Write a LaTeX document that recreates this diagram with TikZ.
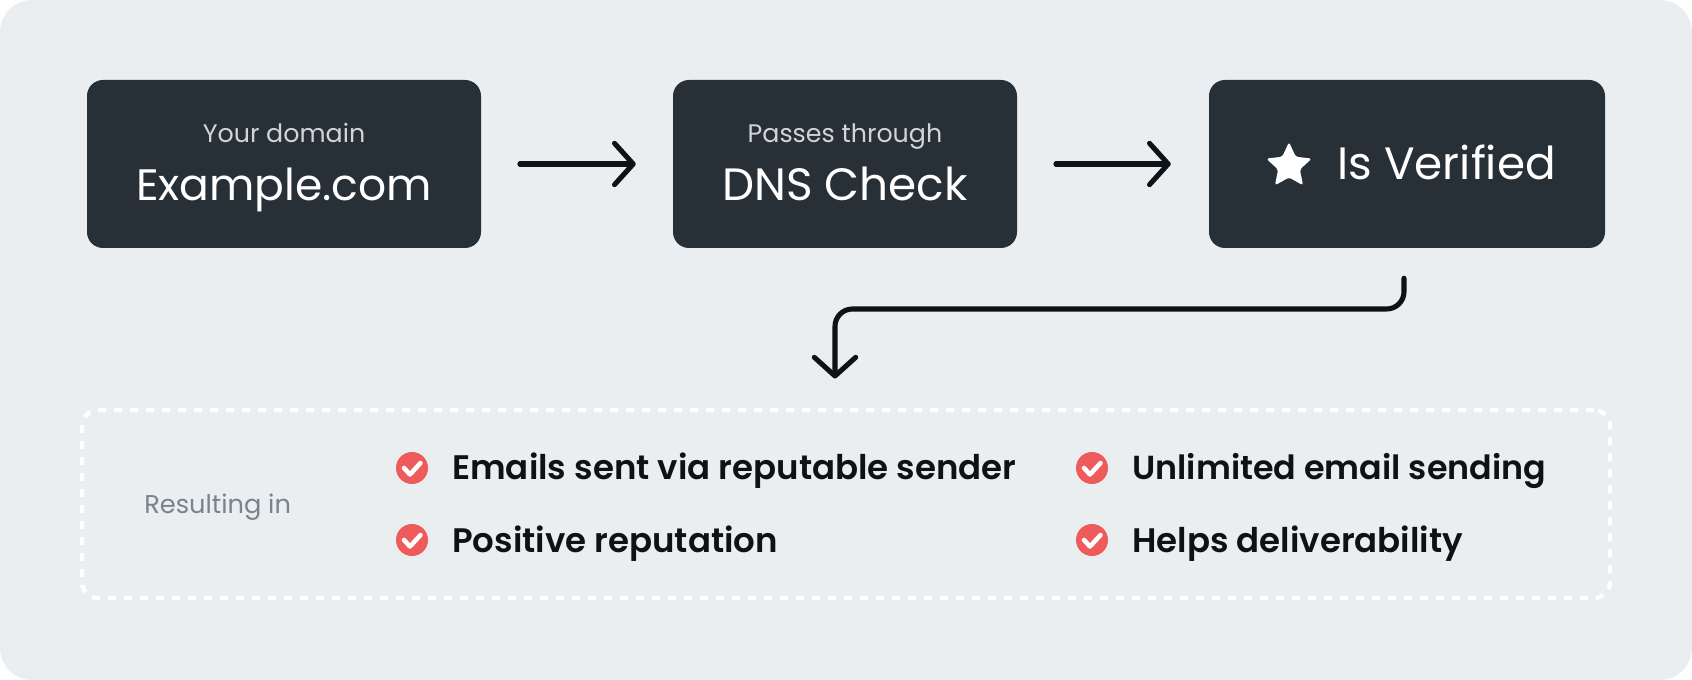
\documentclass[tikz,border=0pt]{standalone}
\usepackage{fontspec}
\setmainfont{Poppins}
\newfontfamily\gainfont{Poppins SemiBold}
\usepackage{tikz}
\usetikzlibrary{arrows.meta,positioning,calc,shapes.geometric}
\definecolor{panelbg}{HTML}{EAEEF1}
\definecolor{boxdark}{HTML}{272F37}
\definecolor{inkdark}{HTML}{0C1215}
\definecolor{subgrey}{HTML}{D2D5D8}
\definecolor{restgrey}{HTML}{7A8389}
\definecolor{tickred}{HTML}{EF5A5A}
\tikzstyle{stepbox}=[fill=boxdark,rounded corners=12pt,minimum height=126pt,inner sep=0pt]
\tikzstyle{subtext}=[text=subgrey,font=\fontsize{19}{22}\selectfont,inner sep=0pt,anchor=base]
\tikzstyle{maintext}=[text=white,font=\fontsize{34}{38}\selectfont,inner sep=0pt,anchor=base]
\tikzstyle{flow}=[draw=inkdark,line width=3.8pt,line cap=round,line join=round,-{Straight Barb[round,length=14pt,width=31pt,line width=3.8pt]}]
\tikzstyle{tick}=[circle,fill=tickred,minimum size=24pt,inner sep=0pt,path picture={
  \draw[white,line width=3.4pt,line cap=round,line join=round]
    ([shift={(-8,0)}]path picture bounding box.center) -- ++(6,6.5) -- ++(10.5,-11.5);}]
\tikzstyle{gain}=[text=inkdark,font=\fontsize{25.5}{30}\gainfont,inner sep=0pt,anchor=base west]

\begin{document}
\begin{tikzpicture}[x=.75pt,y=-.75pt]
\useasboundingbox (0,0) rectangle (1692,680);
\fill[panelbg,rounded corners=24pt] (0,0) rectangle (1692,680);

\node [stepbox,minimum width=295.5pt] (domain) at (284,164) {};
\node [stepbox,minimum width=258pt] (dnscheck) at (845,164) {};
\node [stepbox,minimum width=297pt] (verified) at (1407,164) {};

\node [subtext] (domainsub) at (284,143) {Your domain};
\node [maintext,font=\fontsize{33}{38}\selectfont] (domainname) at (284,201) {Example.com};
\node [subtext] (dnssub) at (845,143) {Passes through};
\node [maintext] (dnsname) at (845,201) {DNS Check};
\node [maintext,anchor=base west] (verifiedname) at (1337,180) {Is Verified};
\node [star,star points=5,star point ratio=2.1,fill=white,rounded corners=2pt,minimum size=36pt,inner sep=0pt] (verifiedstar) at (1289,166) {};

\draw [flow,shorten <=29pt,shorten >=27.75pt] (domain.east) -- (dnscheck.west);
\draw [flow,shorten <=29pt,shorten >=28.5pt] (dnscheck.east) -- (verified.west);

\node [draw=white,line width=3.2pt,dash pattern=on 6pt off 6pt,rounded corners=12pt,minimum width=1146pt,minimum height=141pt,inner sep=0pt] (resulting) at (846,504) {};
\node [text=restgrey,font=\fontsize{19.25}{22}\selectfont,inner sep=0pt,anchor=base west] (resultlabel) at (144,514) {Resulting in};

\coordinate (bend) at (835,309);
\draw [flow,rounded corners=13pt,shorten <=22.5pt,shorten >=22pt] ([xshift=-2.25pt]verified.south) |- (bend) -- (bend |- resulting.north);

\node [tick] (tickemails) at (412,468) {};
\node [tick] (tickpositive) at (412,540) {};
\node [tick] (tickunlimited) at (1092,468) {};
\node [tick] (tickhelps) at (1092,540) {};

\node [gain] (gainemails) at (452,480) {Emails sent via reputable sender};
\node [gain] (gainpositive) at (452,552) {Positive reputation};
\node [gain,font=\fontsize{25}{30}\gainfont] (gainunlimited) at (1132,480) {Unlimited email sending};
\node [gain] (gainhelps) at (1132,552) {Helps deliverability};
\end{tikzpicture}
\end{document}
